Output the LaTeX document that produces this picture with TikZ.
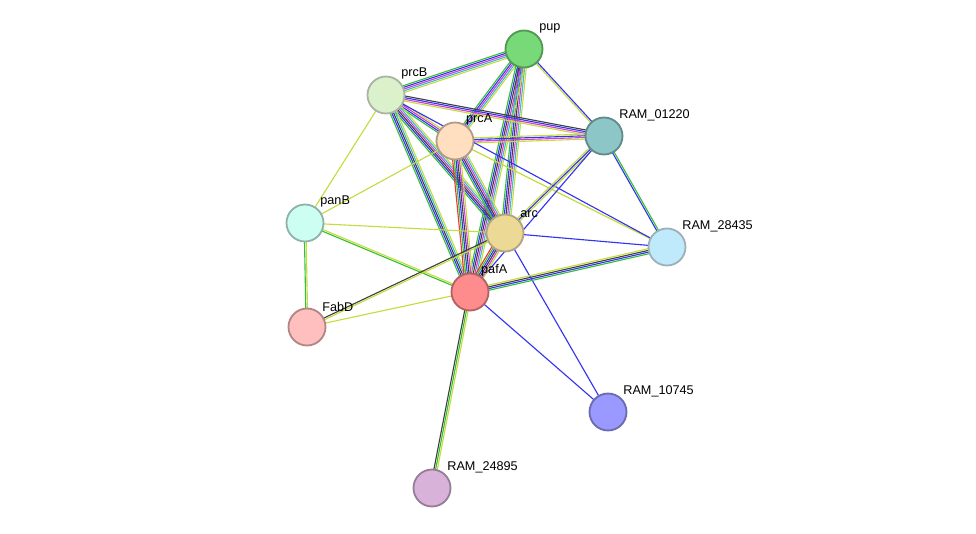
\documentclass[tikz,border=0pt]{standalone}
\usepackage{fontspec}
\setmainfont{Liberation Sans}
\usetikzlibrary{calc}
\pgfdeclarelayer{bg}
\pgfsetlayers{bg,main}

\definecolor{egreen}{HTML}{33C033}
\definecolor{eblue}{HTML}{3333F0}
\definecolor{emag}{HTML}{D040D0}
\definecolor{eyel}{HTML}{C4DC3C}
\definecolor{ered}{HTML}{F03333}
\definecolor{ecyan}{HTML}{40B8D8}
\definecolor{eblack}{HTML}{404040}

\tikzset{
  prot/.style={circle, draw=#1!70!black, fill=#1, line width=1.3pt, minimum size=37\pxu, inner sep=0pt},
  lbl/.style={anchor=south west, font=\fontsize{9}{10}\selectfont, inner sep=1pt},
  link/.style={line width=0.8pt}
}
\newlength\pxu
\setlength\pxu{0.025cm}

% parallel coloured links: from, to, count, colours
\newcommand\strlink[4]{%
  \foreach \c [count=\i] in {#4} {
    \pgfmathsetmacro\off{(\i-(#3+1)/2)*1.2}
    \draw[link, \c] ($(#1)!\off pt!90:(#2)$) -- ($(#2)!\off pt!-90:(#1)$);
  }}

\begin{document}
\begin{tikzpicture}[x=0.025cm, y=-0.025cm]
  \useasboundingbox (0,0) rectangle (976,534);

  % proteins
  \node[prot=green!45!white!85!black] (pup) at (524,49) {};
  \node[prot={yellow!30!green!20!white}] (prcB) at (386,95) {};
  \node[prot=orange!25!white] (prcA) at (455,141) {};
  \node[prot=teal!45!white] (r01220) at (604,136) {};
  \node[prot=green!25!cyan!20!white] (panB) at (305,223) {};
  \node[prot=yellow!40!brown!50!white] (arc) at (505,233) {};
  \node[prot=cyan!25!white] (r28435) at (667,247) {};
  \node[prot=red!45!white] (pafA) at (470,292) {};
  \node[prot=red!25!white] (FabD) at (307,327) {};
  \node[prot=blue!40!white] (r10745) at (608,412) {};
  \node[prot=violet!30!white] (r24895) at (432,488) {};

  % labels
  \node[lbl] at (pup.north east) {pup};
  \node[lbl] at (prcB.north east) {prcB};
  \node[lbl] at ([xshift=-3pt]prcA.north east) {prcA};
  \node[lbl] at (r01220.north east) {RAM\_01220};
  \node[lbl] at (panB.north east) {panB};
  \node[lbl] at (arc.north east) {arc};
  \node[lbl] at (r28435.north east) {RAM\_28435};
  \node[lbl] at ([xshift=-3pt]pafA.north east) {pafA};
  \node[lbl] at (FabD.north east) {FabD};
  \node[lbl] at (r10745.north east) {RAM\_10745};
  \node[lbl] at (r24895.north east) {RAM\_24895};

  \begin{pgfonlayer}{bg}
    \strlink{pup}{prcB}{5}{egreen,eblue,emag,ecyan,eyel}
    \strlink{pup}{prcA}{5}{egreen,eblue,emag,ecyan,eyel}
    \strlink{pup}{r01220}{2}{eyel,eblue}
    \strlink{pup}{arc}{6}{egreen,eblue,eblack,emag,ecyan,eyel}
    \strlink{pup}{pafA}{6}{egreen,eblue,eblack,emag,ecyan,eyel}
    \strlink{prcB}{prcA}{4}{egreen,eblue,emag,eyel}
    \strlink{prcB}{r01220}{4}{eyel,emag,eblue,eblack}
    \strlink{prcB}{arc}{6}{egreen,eblue,eblack,emag,ecyan,eyel}
    \strlink{prcB}{pafA}{5}{egreen,eblue,eblack,ecyan,eyel}
    \strlink{prcB}{panB}{1}{eyel}
    \strlink{prcA}{r01220}{4}{eyel,emag,eblue,eyel}
    \strlink{prcA}{arc}{6}{egreen,eblue,eblack,emag,ecyan,eyel}
    \strlink{prcA}{pafA}{6}{ered,egreen,eblue,eblack,emag,eyel}
    \strlink{prcA}{panB}{1}{eyel}
    \strlink{prcA}{r28435}{1}{eyel}
    \strlink{prcB}{r28435}{1}{eblue}
    \strlink{r01220}{r28435}{2}{eblue,egreen}
    \strlink{r01220}{arc}{3}{eyel,eblue,eyel}
    \strlink{r01220}{pafA}{1}{eblue}
    \strlink{panB}{arc}{1}{eyel}
    \strlink{panB}{pafA}{2}{egreen,eyel}
    \strlink{panB}{FabD}{2}{egreen,eyel}
    \strlink{arc}{pafA}{6}{ered,egreen,eblue,eblack,emag,eyel}
    \strlink{arc}{r28435}{1}{eblue}
    \strlink{arc}{r10745}{1}{eblue}
    \strlink{arc}{FabD}{2}{eblack,eyel}
    \strlink{pafA}{r28435}{4}{egreen,eblue,eblack,eyel}
    \strlink{pafA}{FabD}{1}{eyel}
    \strlink{pafA}{r10745}{1}{eblue}
    \strlink{pafA}{r24895}{3}{eblack,egreen,eyel}
  \end{pgfonlayer}
\end{tikzpicture}
\end{document}
